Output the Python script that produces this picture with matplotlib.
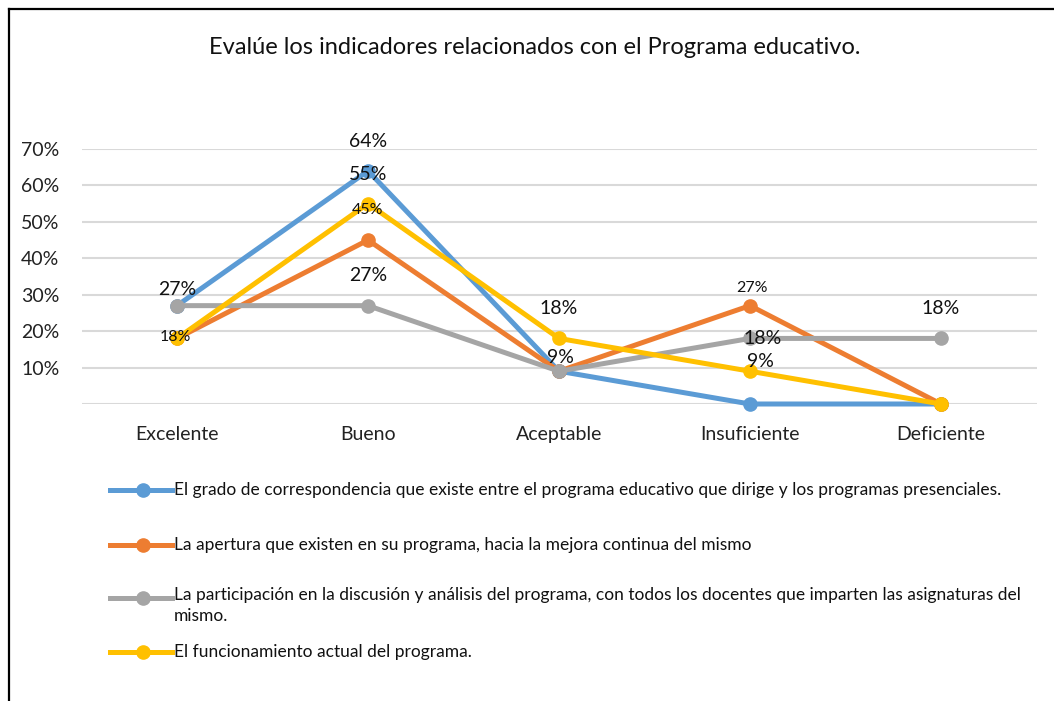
import matplotlib.pyplot as plt
from matplotlib.lines import Line2D
from matplotlib.ticker import FuncFormatter

plt.rcParams['font.family'] = ['Lato', 'DejaVu Sans']

# data
categories = ['Excelente', 'Bueno', 'Aceptable', 'Insuficiente', 'Deficiente']
serie_correspondencia = [0.27, 0.64, 0.09, 0.0, 0.0]
serie_apertura = [0.18, 0.45, 0.09, 0.27, 0.0]
serie_participacion = [0.27, 0.27, 0.09, 0.18, 0.18]
serie_funcionamiento = [0.18, 0.55, 0.18, 0.09, 0.0]
series_names = [
    'El grado de correspondencia que existe entre el programa educativo que dirige y los programas presenciales.',
    'La apertura que existen en su programa, hacia la mejora continua del mismo',
    'La participación en la discusión y análisis del programa, con todos los docentes que imparten las asignaturas del\nmismo.',
    'El funcionamiento actual del programa.',
]
yticks = [0.1, 0.2, 0.3, 0.4, 0.5, 0.6, 0.7]

all_series = [serie_correspondencia, serie_apertura, serie_participacion, serie_funcionamiento]
colors = ['#5B9BD5', '#ED7D31', '#A5A5A5', '#FFC000']

W, H = 1054, 701
fig = plt.figure(figsize=(W / 100, H / 100), dpi=100)

# axes placed in pixel terms
ax = fig.add_axes([81.5 / W, 1 - 404 / H, 955 / W, 255 / H])
x = list(range(len(categories)))
for vals, c in zip(all_series, colors):
    ax.plot(x, vals, color=c, lw=3.6, marker='o', ms=9.5, clip_on=False,
            solid_joinstyle='round', zorder=3)

ax.set_xlim(-0.5, len(categories) - 0.5)
ax.set_ylim(0, 0.7)
ax.set_yticks([0] + yticks)
ax.yaxis.set_major_formatter(FuncFormatter(lambda v, p: '' if v == 0 else f'{v:.0%}'))
ax.set_xticks(x)
ax.set_xticklabels(categories)
ax.tick_params(length=0, labelsize=14, colors='#222222')
ax.tick_params(axis='x', pad=16)
ax.tick_params(axis='y', pad=16)
ax.grid(axis='y', color='#D9D9D9', lw=1.5)
ax.set_axisbelow(True)
for s in ax.spines.values():
    s.set_visible(False)

# data labels: (series, category, dx px, dy px, size)
labels = [
    (2, 0, 0, 16, 14), (1, 0, -2, 1, 11.5),
    (0, 1, 0, 29, 14), (3, 1, 0, 29, 14), (1, 1, 0, 30, 11.5), (2, 1, 0, 30, 14),
    (3, 2, 0, 30, 14), (2, 2, 1, 14, 14),
    (1, 3, 2, 18, 11.5), (2, 3, 13, 0, 14), (3, 3, 10, 10, 14),
    (2, 4, 0, 30, 14),
]
for si, ci, dx, dy, fs in labels:
    v = all_series[si][ci]
    ax.annotate(f'{v:.0%}', (ci, v), xytext=(dx, dy), textcoords='offset pixels',
                ha='center', va='center', fontsize=fs, color='#111111',
                annotation_clip=False, zorder=5)

fig.text(535 / W, 1 - 47 / H, 'Evalúe los indicadores relacionados con el Programa educativo.',
         ha='center', va='center', fontsize=17, color='#111111')

# legend drawn by hand (irregular spacing, as in the original)
legend_y = [490, 545, 598, 652]
for name, c, ly in zip(series_names, colors, legend_y):
    yy = 1 - ly / H
    fig.add_artist(Line2D([110 / W, 172 / W], [yy, yy], color=c, lw=3.6))
    fig.add_artist(Line2D([143 / W], [yy], color=c, marker='o', ms=9.5))
    if '\n' in name:
        fig.text(174 / W, 1 - (ly - 11) / H, name, ha='left', va='top', fontsize=12.5,
                 color='#111111', linespacing=1.35)
    else:
        fig.text(174 / W, yy, name, ha='left', va='center', fontsize=12.5, color='#111111')

# frame (left and top edges visible)
fig.add_artist(Line2D([8.5 / W, 8.5 / W], [0, 1 - 8.5 / H], color='black', lw=1.6))
fig.add_artist(Line2D([8.5 / W, 1], [1 - 8.5 / H, 1 - 8.5 / H], color='black', lw=1.6))

fig.savefig('out.png', dpi=100, facecolor='white')
